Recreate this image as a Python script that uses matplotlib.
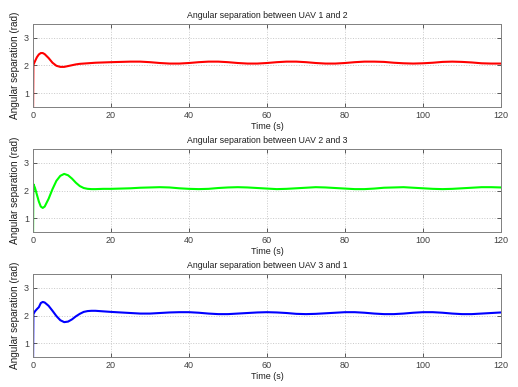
import matplotlib
matplotlib.use('Agg')
from matplotlib import pyplot as plt

plt.rcParams['font.family'] = ['Liberation Sans', 'DejaVu Sans']

# time samples (s)
t = [0, 0.1, 0.5, 1, 1.5, 2, 2.5, 3, 4, 5, 6, 7, 8, 9, 10, 11, 12, 13, 14, 15, 16, 18, 20,
     22.5, 25, 27.5, 30, 32.5, 35, 37.5, 40, 42.5, 45, 47.5, 50, 52.5, 55, 57.5, 60,
     62.5, 65, 67.5, 70, 72.5, 75, 77.5, 80, 82.5, 85, 87.5, 90, 92.5, 95, 97.5, 100,
     102.5, 105, 107.5, 110, 112.5, 115, 117.5, 120]

sep12 = [0.0, 2.02, 2.15, 2.30, 2.40, 2.45, 2.45, 2.41, 2.27, 2.10, 1.99, 1.95, 1.95, 1.98, 2.01,
         2.04, 2.06, 2.07, 2.08, 2.09, 2.10, 2.11, 2.12,
         2.13, 2.14, 2.14, 2.12, 2.09, 2.07, 2.07, 2.09, 2.12, 2.14, 2.14, 2.12, 2.09, 2.07, 2.07, 2.09,
         2.12, 2.14, 2.14, 2.12, 2.09, 2.07, 2.07, 2.09, 2.12, 2.14, 2.14, 2.13, 2.10, 2.08, 2.07, 2.08,
         2.10, 2.13, 2.14, 2.13, 2.11, 2.08, 2.07, 2.07]

sep23 = [0.0, 2.23, 2.10, 1.85, 1.60, 1.42, 1.37, 1.42, 1.70, 2.05, 2.35, 2.53, 2.60, 2.55, 2.43,
         2.28, 2.16, 2.09, 2.06, 2.05, 2.05, 2.06, 2.06,
         2.07, 2.08, 2.10, 2.11, 2.12, 2.11, 2.08, 2.06, 2.05, 2.06, 2.09, 2.11, 2.12, 2.11, 2.09, 2.07,
         2.05, 2.06, 2.08, 2.10, 2.12, 2.11, 2.09, 2.07, 2.05, 2.05, 2.07, 2.10, 2.11, 2.12, 2.10, 2.08,
         2.06, 2.05, 2.06, 2.08, 2.10, 2.12, 2.12, 2.11]

sep31 = [0.0, 2.05, 2.15, 2.23, 2.30, 2.45, 2.49, 2.47, 2.35, 2.17, 1.98, 1.83, 1.76, 1.78, 1.86,
         1.97, 2.06, 2.13, 2.16, 2.17, 2.17, 2.15, 2.13,
         2.11, 2.09, 2.07, 2.07, 2.09, 2.11, 2.12, 2.12, 2.10, 2.07, 2.05, 2.05, 2.07, 2.09, 2.11, 2.12,
         2.11, 2.09, 2.06, 2.05, 2.06, 2.08, 2.10, 2.12, 2.12, 2.10, 2.07, 2.05, 2.05, 2.07, 2.10, 2.12,
         2.12, 2.10, 2.07, 2.05, 2.05, 2.07, 2.09, 2.11]

titles = ['Angular separation between UAV 1 and 2',
          'Angular separation between UAV 2 and 3',
          'Angular separation between UAV 3 and 1']
series = [sep12, sep23, sep31]
colors = ['#ff0000', '#00ff00', '#0000ff']
xticks = [0, 20, 40, 60, 80, 100, 120]
yticks = [1, 2, 3]

fig = plt.figure(figsize=(5.18, 3.87), dpi=100)
boxes = [[0.0637, 0.7235, 0.9035, 0.2145],
         [0.0637, 0.4005, 0.9035, 0.2145],
         [0.0637, 0.0775, 0.9035, 0.2145]]

for i in range(3):
    ax = fig.add_axes(boxes[i])
    ax.plot(t, series[i], color=colors[i], linewidth=1.5)
    ax.set_xlim(0, 120)
    ax.set_ylim(0.5, 3.5)
    ax.set_xticks(xticks)
    ax.set_yticks(yticks)
    ax.grid(True, linestyle=':', color='#c8c8c8', linewidth=0.7)
    ax.tick_params(direction='in', top=True, right=True, labelsize=6.5,
                   length=3, width=0.6, colors='#404040', pad=3)
    for sp in ax.spines.values():
        sp.set_color('#808080')
        sp.set_linewidth(0.7)
    ax.set_title(titles[i], fontsize=6.3, pad=4, color='#202020')
    ax.set_xlabel('Time (s)', fontsize=6.5, labelpad=1, color='#202020')
    ax.set_ylabel('Angular separation (rad)', fontsize=7.2, labelpad=3, color='#202020')

fig.savefig('out.png', dpi=100)
